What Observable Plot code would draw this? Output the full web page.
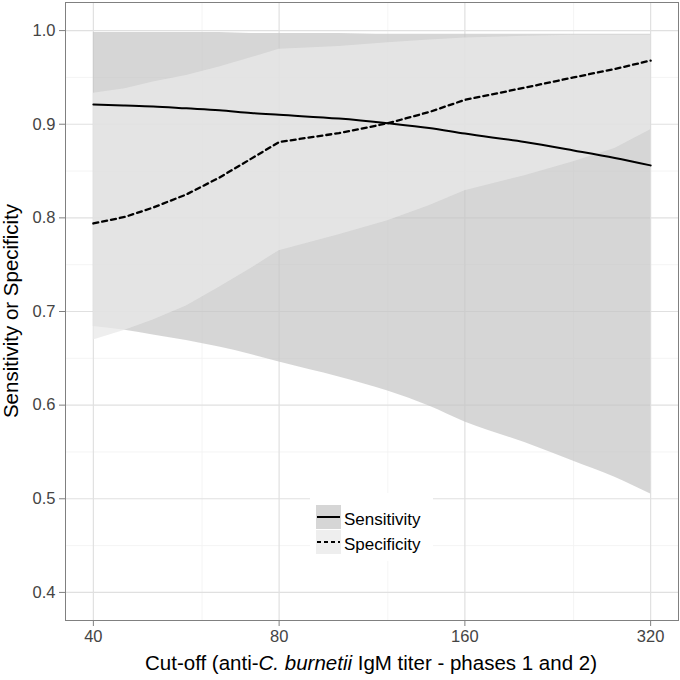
<!DOCTYPE html>
<html><head><meta charset="utf-8">
<script src="https://cdn.jsdelivr.net/npm/d3@7"></script>
<script src="https://cdn.jsdelivr.net/npm/@observablehq/plot@0.6"></script>
<style>body{margin:0;background:#fff;} #chart{width:680px;height:680px;}</style>
</head><body><div id="chart"></div>
<script>
// Cut-off titers (x)
const titers = [40, 45, 50, 56.6, 64, 72, 80, 100, 120, 140, 160, 200, 240, 280, 320];
// Sensitivity estimate and band
const sensEst  = [0.921, 0.920, 0.919, 0.917, 0.915, 0.912, 0.910, 0.906, 0.901, 0.896, 0.890, 0.881, 0.872, 0.864, 0.856];
const sensLow  = [0.684, 0.680, 0.675, 0.669, 0.662, 0.654, 0.646, 0.630, 0.615, 0.599, 0.582, 0.560, 0.540, 0.523, 0.505];
const sensHigh = [0.998, 0.998, 0.998, 0.998, 0.998, 0.997, 0.997, 0.997, 0.996, 0.996, 0.996, 0.996, 0.996, 0.996, 0.996];
// Specificity estimate and band
const specEst  = [0.794, 0.801, 0.811, 0.825, 0.843, 0.863, 0.881, 0.8905, 0.901, 0.913, 0.926, 0.939, 0.950, 0.959, 0.968];
const specLow  = [0.6695, 0.680, 0.691, 0.706, 0.726, 0.746, 0.765, 0.782, 0.797, 0.813, 0.829, 0.845, 0.860, 0.874, 0.894];
const specHigh = [0.933, 0.938, 0.945, 0.952, 0.961, 0.971, 0.980, 0.983, 0.987, 0.990, 0.992, 0.994, 0.995, 0.995, 0.995];
// Axis ticks
const xTicks = [40, 80, 160, 320];
const xMinor = [60, 120, 240];
const yTicks = [0.4, 0.5, 0.6, 0.7, 0.8, 0.9, 1.0];
const yMinor = [0.45, 0.55, 0.65, 0.75, 0.85, 0.95];
const seriesNames = ["Sensitivity", "Specificity"];

const rows = titers.map((t, i) => ({
  t, sens: sensEst[i], sL: sensLow[i], sH: sensHigh[i],
  spec: specEst[i], pL: specLow[i], pH: specHigh[i]
}));

const FONT = "'Liberation Sans', Arial, Helvetica, sans-serif";
const sensFill = "#c5c5c5", sensOp = 0.7;
const specFill = "#e8e8e8", specOp = 0.75;

const plot = Plot.plot({
  width: 680, height: 680,
  marginLeft: 65, marginRight: 2, marginTop: 2, marginBottom: 60,
  x: {type: "log", domain: [40 * 2 ** -0.15, 320 * 2 ** 0.15]},
  y: {domain: [0.37, 1.03]},
  style: {fontFamily: FONT, background: "#fff", overflow: "visible"},
  marks: [
    Plot.gridX(xMinor, {stroke: "#f1f1f1", strokeOpacity: 1, strokeWidth: 0.8}),
    Plot.gridY(yMinor, {stroke: "#f1f1f1", strokeOpacity: 1, strokeWidth: 0.8}),
    Plot.gridX(xTicks, {stroke: "#e0e0e0", strokeOpacity: 1, strokeWidth: 1.2}),
    Plot.gridY(yTicks, {stroke: "#e0e0e0", strokeOpacity: 1, strokeWidth: 1.2}),
    Plot.areaY(rows, {x: "t", y1: "sL", y2: "sH", fill: sensFill, fillOpacity: sensOp, curve: "monotone-x"}),
    Plot.areaY(rows, {x: "t", y1: "pL", y2: "pH", fill: specFill, fillOpacity: specOp, curve: "linear"}),
    Plot.lineY(rows, {x: "t", y: "sens", stroke: "#000", strokeWidth: 2, curve: "monotone-x"}),
    Plot.lineY(rows, {x: "t", y: "spec", stroke: "#000", strokeWidth: 2.3, strokeDasharray: "5,4", curve: "linear"}),
    Plot.frame({stroke: "#808080", strokeWidth: 1}),
    Plot.axisX(xTicks, {tickSize: 6, tickPadding: 4, tickFormat: d => String(d), fontSize: 16.5, label: null, stroke: "#808080", fill: "#444"}),
    Plot.axisY(yTicks, {tickSize: 6, tickPadding: 4, tickFormat: d3.format(".1f"), fontSize: 16.5, label: null, stroke: "#808080", fill: "#444"})
  ]
});

const svg = d3.select(plot);

// Axis titles
const xt = svg.append("text")
  .attr("x", 371).attr("y", 670)
  .attr("text-anchor", "middle")
  .attr("font-family", FONT).attr("font-size", 20.5).attr("fill", "#000");
xt.append("tspan").text("Cut-off (anti-");
xt.append("tspan").attr("font-style", "italic").text("C. burnetii");
xt.append("tspan").text(" IgM titer - phases 1 and 2)");

svg.append("text")
  .attr("transform", "translate(18,311) rotate(-90)")
  .attr("text-anchor", "middle")
  .attr("font-family", FONT).attr("font-size", 20.5).attr("fill", "#000")
  .text("Sensitivity or Specificity");

// Legend
const lg = svg.append("g");
lg.append("rect").attr("x", 310).attr("y", 493).attr("width", 123).attr("height", 68).attr("fill", "#fff");
const keys = [
  {name: seriesNames[0], fill: sensFill, op: sensOp, dash: null},
  {name: seriesNames[1], fill: specFill, op: specOp, dash: "4,3"}
];
keys.forEach((k, i) => {
  const y0 = 505 + i * 25;
  lg.append("rect").attr("x", 316).attr("y", y0).attr("width", 25).attr("height", 24)
    .attr("fill", k.fill).attr("fill-opacity", k.op);
  lg.append("line").attr("x1", 317).attr("x2", 340).attr("y1", y0 + 12).attr("y2", y0 + 12)
    .attr("stroke", "#000").attr("stroke-width", 2).attr("stroke-dasharray", k.dash);
  lg.append("text").attr("x", 344).attr("y", y0 + 14).attr("dy", "0.35em")
    .attr("text-anchor", "start")
    .attr("font-family", FONT).attr("font-size", 17).attr("fill", "#000").text(k.name);
});

document.getElementById("chart").appendChild(plot);
</script>
</body></html>
